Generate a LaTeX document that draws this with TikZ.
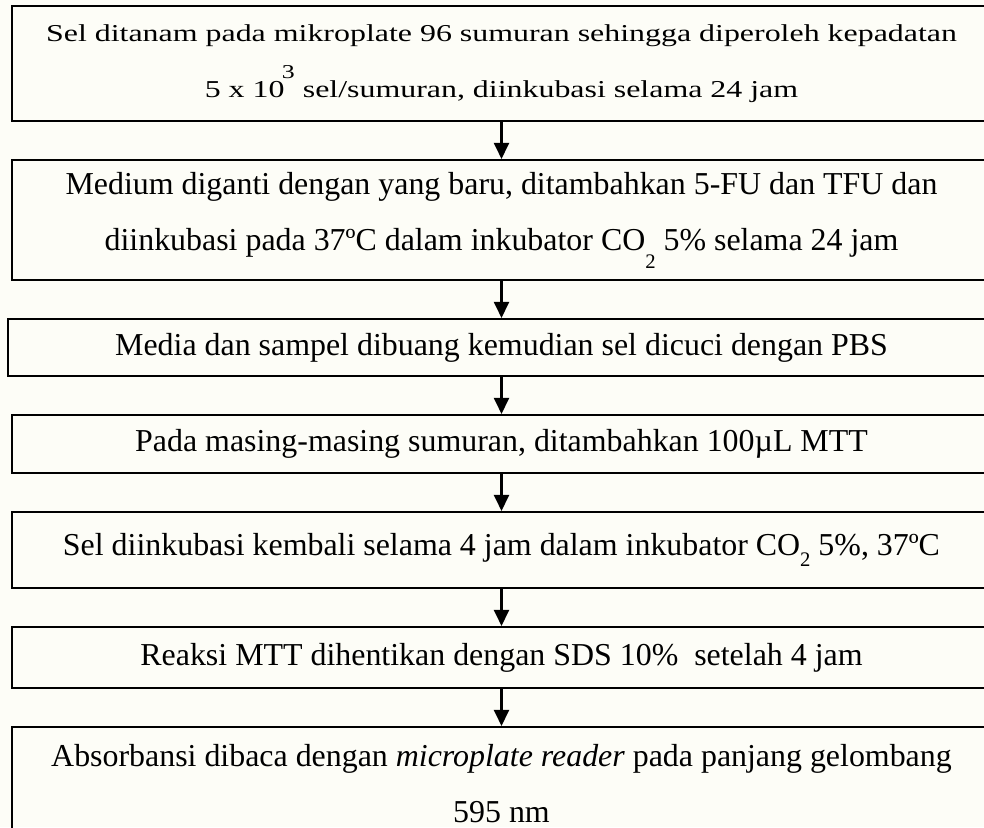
\documentclass[tikz,border=0pt]{standalone}
\usepackage{fontspec}
\setmainfont{Liberation Serif}
\usepackage{graphicx}
\usetikzlibrary{arrows.meta}

\definecolor{kertas}{RGB}{253,253,247}
\newcommand{\duabawah}[1]{\raisebox{-#1}{\fontsize{8}{8}\selectfont 2}}

\tikzset{
  langkah/.style={draw, line width=0.8pt, minimum width=979*0.3871pt, align=center, inner sep=0pt, font=\fontsize{12.35}{21.7}\selectfont},
  panah/.style={line width=0.8pt, -{Triangle[width=5.8pt,length=6.2pt]}}
}

\begin{document}
\begin{tikzpicture}[x=0.3871pt,y=-0.3871pt]
    % page and background
    \useasboundingbox (0,0) rectangle (984,827);
    \clip (0,0) rectangle (984,827);
    \fill[kertas] (0,0) rectangle (984,827);

    % steps
    \node[langkah, minimum height=115*0.3871pt] (tanam) at (501.5,63.5)
      {\scalebox{1}[0.76]{Sel ditanam pada mikroplate 96 sumuran sehingga diperoleh kepadatan}\\
       \scalebox{1}[0.76]{5 x 10\kern-1pt\raisebox{9.8pt}{\fontsize{10}{10}\selectfont 3} sel/sumuran, diinkubasi selama 24 jam}};
    \node[langkah, minimum height=120*0.3871pt] (medium) at (501.5,220)
      {Medium diganti dengan yang baru, ditambahkan 5-FU dan TFU dan\\
       diinkubasi pada 37ºC dalam inkubator CO\duabawah{7pt} 5\% selama 24 jam};
    \node[langkah, minimum width=987*0.3871pt, minimum height=57*0.3871pt] (cuci) at (501.5,347.5)
      {Media dan sampel dibuang kemudian sel dicuci dengan PBS};
    \node[langkah, minimum height=58*0.3871pt] (mtt) at (501.5,444)
      {Pada masing-masing sumuran, ditambahkan 100µL MTT};
    \node[langkah, minimum height=76*0.3871pt] (inkubasi) at (501.5,550)
      {Sel diinkubasi kembali selama 4 jam dalam inkubator CO\duabawah{4.5pt} 5\%, 37ºC};
    \node[langkah, minimum height=61*0.3871pt] (sds) at (501.5,657.5)
      {Reaksi MTT dihentikan dengan SDS 10\%~ setelah 4 jam};
    \node[langkah, minimum height=114*0.3871pt] (baca) at (501.5,784)
      {Absorbansi dibaca dengan \textit{microplate reader} pada panjang gelombang\\
       595 nm};

    % arrows
    \draw[panah] (tanam) -- (medium);
    \draw[panah] (medium) -- (cuci);
    \draw[panah] (cuci) -- (mtt);
    \draw[panah] (mtt) -- (inkubasi);
    \draw[panah] (inkubasi) -- (sds);
    \draw[panah] (sds) -- (baca);
\end{tikzpicture}
\end{document}
